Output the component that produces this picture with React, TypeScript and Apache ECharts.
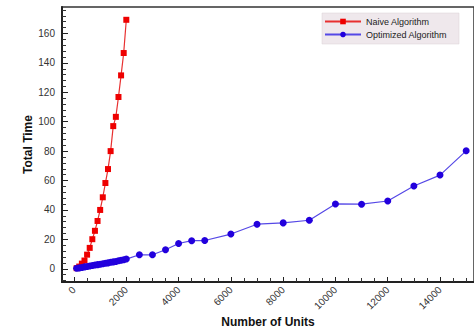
import React, { useEffect, useRef } from "react";
import * as echarts from "echarts";

const naiveX = [100, 200, 300, 400, 500, 600, 700, 800, 900, 1000, 1100, 1200, 1300, 1400, 1500, 1600, 1700, 1800, 1900, 2000];
const naiveY = [0.4, 1.5, 3.5, 5.6, 9.6, 14.2, 20.1, 25.8, 32.5, 40.0, 48.6, 58.3, 67.8, 80.0, 97.0, 103.3, 116.8, 131.5, 146.7, 169.3];

const optX = [100, 200, 300, 400, 500, 600, 700, 800, 900, 1000, 1100, 1200, 1300, 1400, 1500, 1600, 1700, 1800, 1900, 2000,
  2500, 3000, 3500, 4000, 4500, 5000, 6000, 7000, 8000, 9000, 10000, 11000, 12000, 13000, 14000, 15000];
const optY = [0.3, 0.6, 0.9, 1.3, 1.5, 1.9, 2.2, 2.5, 2.8, 3.1, 3.4, 3.8, 4.0, 4.4, 4.7, 5.0, 5.4, 5.8, 6.1, 6.6,
  9.5, 9.5, 12.9, 17.2, 19.1, 19.2, 23.6, 30.3, 31.2, 33.0, 44.1, 43.9, 46.1, 56.3, 63.7, 80.2];

const xTicks = [0, 2000, 4000, 6000, 8000, 10000, 12000, 14000];
const xMinorTicks = [500, 1000, 1500, 2500, 3000, 3500, 4500, 5000, 5500, 6500, 7000, 7500, 8500, 9000, 9500,
  10500, 11000, 11500, 12500, 13000, 13500, 14500, 15000];
const yTicks = [0, 20, 40, 60, 80, 100, 120, 140, 160];
const yMinorTicks = [-8, -4, 4, 8, 12, 16, 24, 28, 32, 36, 44, 48, 52, 56, 64, 68, 72, 76, 84, 88, 92, 96,
  104, 108, 112, 116, 124, 128, 132, 136, 144, 148, 152, 156, 164, 168, 172, 176];

const X_MIN = -460;
const X_MAX = 15300;
const Y_MIN = -9;
const Y_MAX = 178;

export default function App() {
  const ref = useRef<HTMLDivElement>(null);
  useEffect(() => {
    if (!ref.current) return;
    const chart = echarts.init(ref.current, null, { renderer: "svg" });
    const font = "Liberation Sans, Arial, Helvetica, sans-serif";
    const axisLineStyle = { color: "#222", width: 2 };
    const plain = (v: number) => String(v);
    chart.setOption({
      animation: false,
      backgroundColor: "#fff",
      textStyle: { fontFamily: font },
      grid: {
        left: 62, top: 7, right: 0, bottom: 49,
        show: true, borderColor: "#333", borderWidth: 1.5,
        containLabel: false, outerBoundsMode: "none",
      },
      legend: {
        left: 322,
        top: 13,
        orient: "vertical",
        backgroundColor: "#efe8ec",
        borderColor: "#d8d0d4",
        borderWidth: 0.5,
        borderRadius: 0,
        padding: [4, 12, 5, 2],
        itemGap: 4,
        itemWidth: 36,
        itemHeight: 7,
        textStyle: { fontSize: 9, color: "#222", fontFamily: font },
        data: ["Naive Algorithm", "Optimized Algorithm"],
      },
      xAxis: [
        {
          type: "value",
          min: X_MIN,
          max: X_MAX,
          name: "Number of Units",
          nameLocation: "middle",
          nameGap: 34,
          nameMoveOverlap: false,
          nameTextStyle: { fontSize: 12, fontWeight: "bold", color: "#111", fontFamily: font },
          axisLine: { show: true, onZero: false, lineStyle: axisLineStyle },
          axisTick: { show: true, inside: true, length: 5, customValues: xTicks, lineStyle: { color: "#222", width: 1 } },
          axisLabel: { show: true, customValues: xTicks, formatter: plain, rotate: 45, fontSize: 10, color: "#333", margin: 6, fontFamily: font },
          splitLine: { show: false },
        },
        {
          type: "value",
          min: X_MIN,
          max: X_MAX,
          position: "bottom",
          axisLine: { show: false, onZero: false },
          axisTick: { show: true, inside: true, length: 4, customValues: xMinorTicks, lineStyle: { color: "#333", width: 1 } },
          axisLabel: { show: false },
          splitLine: { show: false },
        },
      ],
      yAxis: [
        {
          type: "value",
          min: Y_MIN,
          max: Y_MAX,
          name: "Total Time",
          nameLocation: "middle",
          nameGap: 28,
          nameMoveOverlap: false,
          nameTextStyle: { fontSize: 12, fontWeight: "bold", color: "#111", fontFamily: font },
          axisLine: { show: true, onZero: false, lineStyle: axisLineStyle },
          axisTick: { show: true, inside: true, length: 6, customValues: yTicks, lineStyle: { color: "#222", width: 1 } },
          axisLabel: { show: true, customValues: yTicks, formatter: plain, fontSize: 10, color: "#333", margin: 7, fontFamily: font },
          splitLine: { show: false },
        },
        {
          type: "value",
          min: Y_MIN,
          max: Y_MAX,
          position: "left",
          axisLine: { show: false, onZero: false },
          axisTick: { show: true, inside: true, length: 4, customValues: yMinorTicks, lineStyle: { color: "#333", width: 1 } },
          axisLabel: { show: false },
          splitLine: { show: false },
        },
      ],
      series: [
        {
          name: "Naive Algorithm",
          type: "line",
          data: naiveX.map((x, i) => [x, naiveY[i]]),
          symbol: "rect",
          symbolSize: 6,
          showAllSymbol: true,
          itemStyle: { color: "#ee0000" },
          lineStyle: { color: "#e83030", width: 1.2 },
          z: 3,
        },
        {
          name: "Optimized Algorithm",
          type: "line",
          data: optX.map((x, i) => [x, optY[i]]),
          symbol: "circle",
          symbolSize: 7,
          showAllSymbol: true,
          itemStyle: { color: "#2200dd" },
          lineStyle: { color: "#5548e6", width: 1.2 },
          z: 4,
        },
      ],
    });
    return () => chart.dispose();
  }, []);
  return <div ref={ref} style={{ width: 474, height: 331, position: "absolute", left: 0, top: 0 }} />;
}
